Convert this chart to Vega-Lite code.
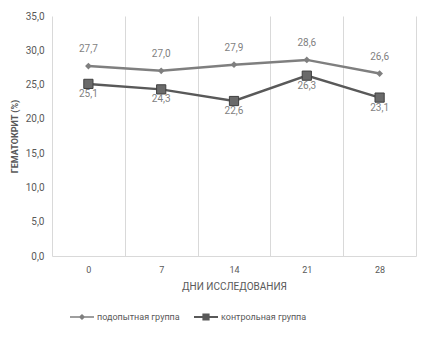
{
  "$schema": "https://vega.github.io/schema/vega-lite/v6.json",
  "width": 364,
  "height": 240,
  "autosize": "none",
  "padding": {"left": 52, "top": 16, "right": 26, "bottom": 97},
  "background": "white",
  "config": {
    "view": {"stroke": null},
    "font": "Roboto",
    "locale": {"number": {"decimal": ",", "thousands": " ", "grouping": [3], "currency": ["", ""]}}
  },
  "data": {
    "values": [
      {"day": 0, "group": "подопытная группа", "value": 27.7},
      {"day": 7, "group": "подопытная группа", "value": 27.0},
      {"day": 14, "group": "подопытная группа", "value": 27.9},
      {"day": 21, "group": "подопытная группа", "value": 28.6},
      {"day": 28, "group": "подопытная группа", "value": 26.6},
      {"day": 0, "group": "контрольная группа", "value": 25.1},
      {"day": 7, "group": "контрольная группа", "value": 24.3},
      {"day": 14, "group": "контрольная группа", "value": 22.6},
      {"day": 21, "group": "контрольная группа", "value": 26.3},
      {"day": 28, "group": "контрольная группа", "value": 23.1}
    ]
  },
  "encoding": {
    "x": {
      "field": "day", "type": "ordinal",
      "scale": {"type": "band", "paddingInner": 0, "paddingOuter": 0},
      "axis": {
        "title": "ДНИ ИССЛЕДОВАНИЯ", "labelAngle": 0, "ticks": false, "grid": true,
        "tickBand": "extent", "gridColor": "#d9d9d9", "domainColor": "#d9d9d9",
        "labelColor": "#595959", "labelFontSize": 9, "labelPadding": 9,
        "titleColor": "#595959", "titleFontSize": 10, "titleFontWeight": "normal", "titlePadding": 7
      }
    },
    "y": {
      "field": "value", "type": "quantitative",
      "scale": {"domain": [0, 35]},
      "axis": {
        "title": "ГЕМАТОКРИТ (%)", "values": [0, 5, 10, 15, 20, 25, 30, 35], "format": ".1f",
        "domain": false, "ticks": false, "grid": false,
        "labelColor": "#595959", "labelFontSize": 10, "labelPadding": 8,
        "titleColor": "#595959", "titleFontSize": 9, "titleFontWeight": "bold", "titlePadding": 6
      }
    }
  },
  "layer": [
    {
      "mark": {"type": "line", "strokeWidth": 2.5},
      "encoding": {
        "color": {
          "field": "group", "type": "nominal",
          "scale": {"domain": ["подопытная группа", "контрольная группа"], "range": ["#7f7f7f", "#595959"]},
          "legend": {
            "title": null, "orient": "none", "direction": "horizontal", "legendX": 18, "legendY": 289,
            "labelColor": "#595959", "labelFontSize": 9, "symbolSize": 576, "columnPadding": 14, "labelOffset": 3,
            "encode": {
              "symbols": {
                "update": {
                  "shape": {"signal": "datum.value == 'подопытная группа' ? 'M-1,-0.07H-0.2L0,-0.25L0.2,-0.07H1V0.07H0.2L0,0.25L-0.2,0.07H-1Z' : 'M-1,-0.08H-0.3V-0.3H0.3V-0.08H1V0.08H0.3V0.3H-0.3V0.08H-1Z'"},
                  "fill": {"signal": "datum.value == 'подопытная группа' ? '#7f7f7f' : '#595959'"},
                  "strokeWidth": {"value": 0}
                }
              }
            }
          }
        }
      }
    },
    {
      "transform": [{"filter": "datum.group == 'подопытная группа'"}],
      "mark": {"type": "point", "shape": "diamond", "size": 45, "filled": true, "opacity": 1, "color": "#7f7f7f"}
    },
    {
      "transform": [{"filter": "datum.group == 'контрольная группа'"}],
      "mark": {"type": "point", "shape": "square", "size": 85, "filled": true, "opacity": 1, "fill": "#6a6a6a", "stroke": "#404040", "strokeWidth": 1}
    },
    {
      "transform": [{"filter": "datum.group == 'подопытная группа'"}],
      "mark": {"type": "text", "dy": -17, "fontSize": 10, "color": "#7f7f7f"},
      "encoding": {"text": {"field": "value", "type": "quantitative", "format": ".1f"}}
    },
    {
      "transform": [{"filter": "datum.group == 'контрольная группа'"}],
      "mark": {"type": "text", "dy": 10, "fontSize": 10, "color": "#7f7f7f"},
      "encoding": {"text": {"field": "value", "type": "quantitative", "format": ".1f"}}
    }
  ]
}
